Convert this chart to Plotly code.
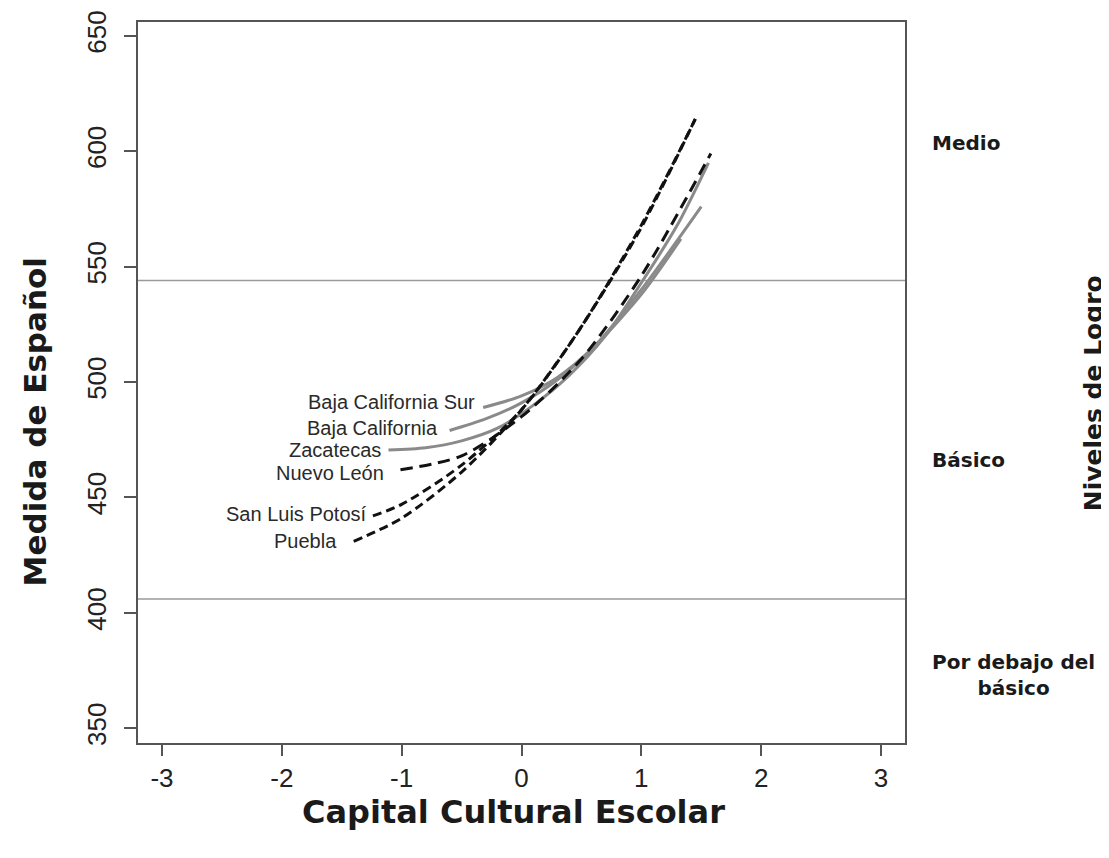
import plotly.graph_objects as go

# ---- data ----
states = ["Baja California Sur", "Baja California", "Zacatecas",
          "Nuevo León", "San Luis Potosí", "Puebla"]

x_bcs = [-0.32, 0.0, 0.3, 0.6, 1.0, 1.33]
y_bcs = [489, 494, 502, 515, 538, 562]

x_bc = [-0.60, -0.3, 0.0, 0.3, 0.6, 1.0, 1.5]
y_bc = [479, 484, 491, 501, 515, 540, 576]

x_zac = [-1.11, -0.8, -0.5, -0.2, 0.1, 0.4, 0.7, 1.0, 1.3, 1.56]
y_zac = [470.5, 471.5, 474.5, 480, 490, 503, 520, 543, 568, 595]

x_nl = [-1.01, -0.5, 0.0, 0.5, 1.0, 1.58]
y_nl = [462, 468, 485, 510, 546, 599]

x_slp = [-1.24, -1.0, -0.5, 0.0, 0.5, 1.0, 1.45]
y_slp = [442, 447, 464, 488, 524, 567, 614]

x_pue = [-1.40, -1.0, -0.5, 0.0, 0.5, 1.0, 1.47]
y_pue = [431, 441, 461, 488, 524, 568, 616]

level_cuts = [406, 544]

x_ticks = [-3, -2, -1, 0, 1, 2, 3]
y_ticks = [350, 400, 450, 500, 550, 600, 650]

# ---- styles ----
GRAY = "#8a8a8a"
BLACK = "#111111"
series = [
    (x_bcs, y_bcs, GRAY, "solid", 3.0, (-6, 5)),
    (x_bc, y_bc, GRAY, "solid", 3.0, (-10, 3)),
    (x_zac, y_zac, GRAY, "solid", 3.0, (-5, 0)),
    (x_nl, y_nl, BLACK, "12px,7px", 3.0, (-14, -3)),
    (x_slp, y_slp, BLACK, "9px,5px", 3.0, (-4, 2)),
    (x_pue, y_pue, BLACK, "9px,5px", 3.0, (-15, 0)),
]

fig = go.Figure()

for name, (xs, ys, col, dash, w, _) in zip(states, series):
    fig.add_trace(go.Scatter(
        x=xs, y=ys, mode="lines", name=name,
        line=dict(color=col, width=w, dash=dash, shape="spline", smoothing=0.8),
        showlegend=False, hoverinfo="skip"))

for cut in level_cuts:
    fig.add_hline(y=cut, line=dict(color="#9a9a9a", width=1.5), layer="below")

LABEL_FONT = dict(family="Liberation Sans, Arial, sans-serif", size=20, color="#2a2a2a")
for name, (xs, ys, col, dash, w, (dx, dy)) in zip(states, series):
    fig.add_annotation(x=xs[0], y=ys[0], text=name, showarrow=False,
                       xanchor="right", yanchor="middle", xshift=dx, yshift=dy,
                       font=LABEL_FONT)

BOLD = dict(family="DejaVu Sans, Arial, sans-serif", color="#1a1a1a")

# right-hand level names
fig.add_annotation(xref="paper", yref="paper", x=1.0326, y=0.832, text="<b>Medio</b>",
                   showarrow=False, xanchor="left", yanchor="middle",
                   font=dict(**BOLD, size=20))
fig.add_annotation(xref="paper", yref="paper", x=1.0326, y=0.3925, text="<b>Básico</b>",
                   showarrow=False, xanchor="left", yanchor="middle",
                   font=dict(**BOLD, size=20))
fig.add_annotation(xref="paper", yref="paper", x=1.141, y=0.094,
                   text="<b>Por debajo del</b><br><b>básico</b>",
                   showarrow=False, xanchor="center", yanchor="middle", align="center",
                   font=dict(**BOLD, size=20))

# axis titles
fig.add_annotation(xref="paper", yref="paper", x=0.49, y=-0.096,
                   text="<b>Capital Cultural Escolar</b>", showarrow=False,
                   xanchor="center", yanchor="middle", font=dict(**BOLD, size=32))
fig.add_annotation(xref="paper", yref="paper", x=-0.134, y=0.445,
                   text="<b>Medida de Español</b>", showarrow=False, textangle=-90,
                   xanchor="center", yanchor="middle", font=dict(**BOLD, size=31))
fig.add_annotation(xref="paper", yref="paper", x=1.245, y=0.485,
                   text="<b>Niveles de Logro</b>", showarrow=False, textangle=-90,
                   xanchor="center", yanchor="middle", font=dict(**BOLD, size=25))

TICK_FONT = dict(family="Liberation Sans, Arial, sans-serif", size=26, color="#222222")
fig.update_xaxes(range=[-3.2, 3.2], tickvals=x_ticks, ticktext=[str(v) for v in x_ticks],
                 showgrid=False, zeroline=False, showline=True, mirror=True,
                 linecolor="#555555", linewidth=2, ticks="outside", ticklen=11,
                 tickcolor="#555555", tickwidth=1.5, tickfont=TICK_FONT, automargin=False)
fig.update_yaxes(range=[343.6, 656], tickvals=y_ticks, ticktext=[str(v) for v in y_ticks],
                 showgrid=False, zeroline=False, showline=True, mirror=True,
                 linecolor="#555555", linewidth=2, ticks="outside", ticklen=12,
                 tickcolor="#555555", tickwidth=1.5, tickfont=TICK_FONT, tickangle=-90,
                 ticklabelstandoff=8, automargin=False)

fig.update_layout(width=1101, height=850, plot_bgcolor="white", paper_bgcolor="white",
                  margin=dict(l=130, r=204, t=14, b=115))

fig.write_html("out.html")
